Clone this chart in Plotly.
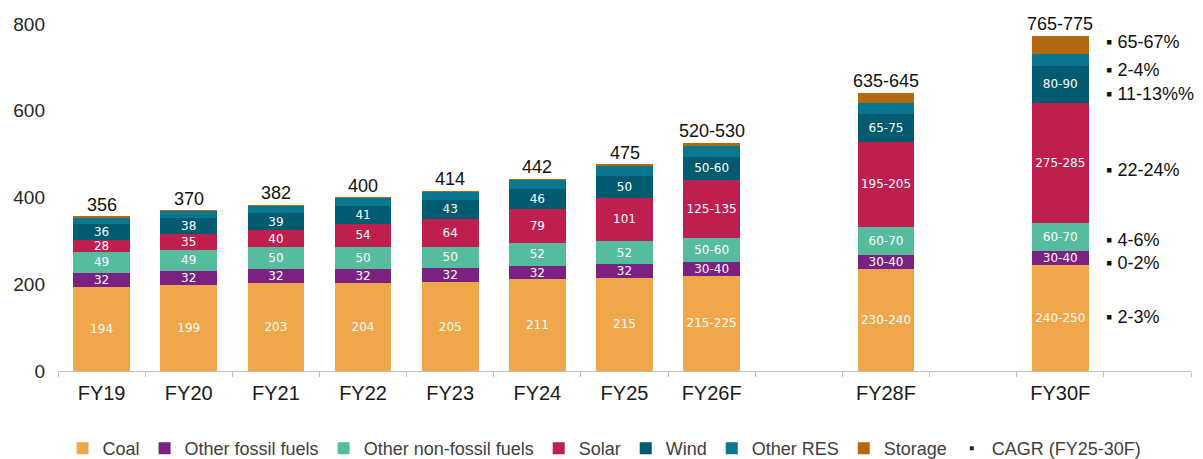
import plotly.graph_objects as go

# ---- data ----
bar_categories = ["FY19", "FY20", "FY21", "FY22", "FY23", "FY24", "FY25", "FY26F", "FY28F", "FY30F"]
axis_categories = ["FY19", "FY20", "FY21", "FY22", "FY23", "FY24", "FY25", "FY26F", " ", "FY28F", "  ", "FY30F", "   "]

coal = [194, 199, 203, 204, 205, 211, 215, 220, 235, 245]
coal_lbl = ["194", "199", "203", "204", "205", "211", "215", "215-225", "230-240", "240-250"]
other_fossil = [32, 32, 32, 32, 32, 32, 32, 32, 32, 32]
other_fossil_lbl = ["32", "32", "32", "32", "32", "32", "32", "30-40", "30-40", "30-40"]
other_nonfossil = [49, 49, 50, 50, 50, 52, 52, 55, 64, 64]
other_nonfossil_lbl = ["49", "49", "50", "50", "50", "52", "52", "50-60", "60-70", "60-70"]
solar = [28, 35, 40, 54, 64, 79, 101, 134, 198, 278]
solar_lbl = ["28", "35", "40", "54", "64", "79", "101", "125-135", "195-205", "275-285"]
wind = [36, 38, 39, 41, 43, 46, 50, 52, 64, 84]
wind_lbl = ["36", "38", "39", "41", "43", "46", "50", "50-60", "65-75", "80-90"]
other_res = [16, 16, 17, 18, 19, 21, 23, 25, 25, 27]
storage = [1, 1, 1, 1, 1, 1, 2, 7, 23, 42]

totals = [356, 370, 382, 400, 414, 442, 475, 525, 641, 772]
total_lbl = ["356", "370", "382", "400", "414", "442", "475", "520-530", "635-645", "765-775"]

cagr_lbl = ["65-67%", "2-4%", "11-13%%", "22-24%", "4-6%", "0-2%", "2-3%"]
cagr_y = [759, 694, 638, 463, 302, 248, 124]

# blank categories where the x axis is broken
break_categories = [" ", "  "]

# ---- styling ----
series = [
    ("Coal", coal, coal_lbl, "#F0A64A"),
    ("Other fossil fuels", other_fossil, other_fossil_lbl, "#7B2182"),
    ("Other non-fossil fuels", other_nonfossil, other_nonfossil_lbl, "#55BC9D"),
    ("Solar", solar, solar_lbl, "#BE1F4E"),
    ("Wind", wind, wind_lbl, "#005A70"),
    ("Other RES", other_res, None, "#0B7690"),
    ("Storage", storage, None, "#B1680F"),
]

fig = go.Figure()
for name, vals, lbls, color in series:
    fig.add_trace(go.Bar(
        x=bar_categories, y=vals, name=name,
        marker=dict(color=color, line=dict(width=0)),
        text=lbls if lbls else None,
        textposition="inside" if lbls else "none",
        insidetextanchor="middle",
        textangle=0,
        constraintext="none",
        textfont=dict(family="DejaVu Sans", size=12, color="white"),
    ))

# legend-only marker for CAGR
fig.add_trace(go.Scatter(
    x=[None], y=[None], mode="markers", name="CAGR (FY25-30F)",
    marker=dict(symbol="square", size=4, color="#262626"),
))

# totals above bars
for c, t, lab in zip(bar_categories, totals, total_lbl):
    fig.add_annotation(x=c, y=t, text=lab, showarrow=False, xref="x", yref="y",
                       yanchor="bottom", yshift=0,
                       font=dict(family="Liberation Sans", size=18, color="#111111"))

# CAGR labels to the right of FY30F
for lab, yv in zip(cagr_lbl, cagr_y):
    fig.add_annotation(x="FY30F", y=yv, text="▪ " + lab, showarrow=False, xref="x", yref="y",
                       xanchor="left", xshift=44,
                       font=dict(family="Liberation Sans", size=18, color="#111111"))

# axis-break gaps on the x axis line
for bc in break_categories:
    idx = axis_categories.index(bc)
    for a, b in ((idx - 0.045, idx - 0.015), (idx + 0.015, idx + 0.06)):
        fig.add_shape(type="line", xref="x", yref="y", x0=a, x1=b, y0=0, y1=0,
                      line=dict(color="white", width=3), layer="above")

fig.update_layout(
    width=1195, height=451,
    barmode="stack", bargap=0.35,
    margin=dict(l=50, r=12, t=16, b=88),
    paper_bgcolor="white", plot_bgcolor="white",
    font=dict(family="Liberation Sans", color="#262626"),
    showlegend=True,
    legend=dict(orientation="h", x=0.004, xanchor="left",
                yref="container", y=0.064, yanchor="top",
                traceorder="normal", font=dict(size=18, color="#404040"),
                itemclick=False),
    xaxis=dict(
        type="category", categoryorder="array", categoryarray=axis_categories,
        range=[-0.5, 12.5], tickson="boundaries", ticks="outside", ticklen=5,
        tickcolor="#BFBFBF", showline=True, linecolor="#BFBFBF", linewidth=1,
        showgrid=False, tickfont=dict(size=20, color="#1a1a1a"),
        ticklabelstandoff=4, automargin=False,
    ),
    yaxis=dict(
        range=[0, 800], tickvals=[0, 200, 400, 600, 800], showgrid=False,
        showline=False, zeroline=False, ticks="",
        tickfont=dict(size=19, color="#262626"),
        ticklabelstandoff=12, automargin=False,
    ),
)

fig.write_html("out.html")
